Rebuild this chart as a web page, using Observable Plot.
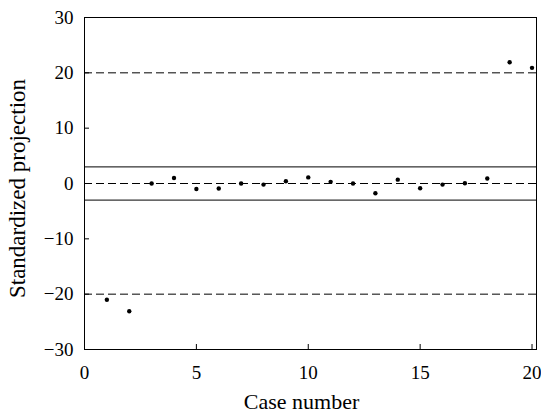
<!DOCTYPE html>
<html>
<head>
<meta charset="utf-8">
<script src="https://cdn.jsdelivr.net/npm/d3@7"></script>
<script src="https://cdn.jsdelivr.net/npm/@observablehq/plot@0.6"></script>
<style>
  html, body { margin: 0; padding: 0; background: #fff; }
  #chart svg { display: block; }
  #chart svg text { font-family: "Liberation Serif", "Times New Roman", serif; }
</style>
</head>
<body>
<div id="chart"></div>
<script>
const caseNumbers = [1, 2, 3, 4, 5, 6, 7, 8, 9, 10, 11, 12, 13, 14, 15, 16, 17, 18, 19, 20];
const projections = [-21.0, -23.1, 0.0, 1.0, -1.0, -0.9, 0.0, -0.2, 0.4, 1.1, 0.3, 0.0, -1.75, 0.7, -0.85, -0.2, 0.05, 0.9, 21.9, 20.9];
const dashedRefs = [-20, 0, 20];
const solidRefs = [-3, 3];
const xTicks = [0, 5, 10, 15, 20];
const yTicks = [-30, -20, -10, 0, 10, 20, 30];
const xLabel = "Case number";
const yLabel = "Standardized projection";

const data = caseNumbers.map((c, i) => ({case: c, value: projections[i]}));

const font = "Liberation Serif";

const chart = Plot.plot({
  width: 541,
  height: 416,
  marginLeft: 84,
  marginRight: 5,
  marginTop: 17,
  marginBottom: 67,
  style: {fontFamily: font, fontSize: "19px", color: "black", background: "white"},
  x: {domain: [0, 20.2], label: null},
  y: {domain: [-30, 30], label: null},
  marks: [
    Plot.ruleY(dashedRefs, {stroke: "black", strokeWidth: 1, strokeDasharray: "8,4"}),
    Plot.ruleY(solidRefs, {stroke: "black", strokeWidth: 1}),
    Plot.dot(data, {x: "case", y: "value", r: 2.2, fill: "black", stroke: null}),
    Plot.axisX({ticks: xTicks, tickSize: -5, tickPadding: 21, fontSize: 19, fontFamily: font, label: null}),
    Plot.axisY({ticks: yTicks, tickSize: -5, tickPadding: 16, fontSize: 19, fontFamily: font, label: null}),
    Plot.frame({stroke: "black", strokeWidth: 1}),
    Plot.text([xLabel], {frameAnchor: "bottom", lineAnchor: "middle", textAnchor: "middle", dy: 52, dx: -9, fontSize: 22, fontFamily: font, fill: "black"}),
    Plot.text([yLabel], {frameAnchor: "left", lineAnchor: "middle", textAnchor: "middle", dx: -67, dy: 5, rotate: -90, fontSize: 23, fontFamily: font, fill: "black"})
  ]
});
document.getElementById("chart").appendChild(chart);
</script>
</body>
</html>
